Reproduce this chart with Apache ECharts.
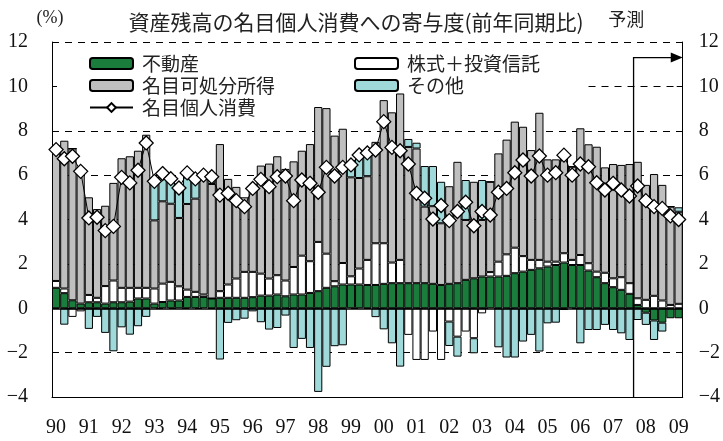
<!DOCTYPE html>
<html><head><meta charset="utf-8">
<script src="https://cdn.jsdelivr.net/npm/echarts@6/dist/echarts.min.js"></script>
<style>html,body{margin:0;padding:0;background:#fff}#c{width:723px;height:441px}</style>
</head><body><div id="c"></div>
<script>
const years = ['90','91','92','93','94','95','96','97','98','99','00','01','02','03','04','05','06','07','08','09'];
const nQuarters = 77;
const realEstate = [0.92,0.68,0.36,0.21,0.27,0.27,0.21,0.27,0.27,0.3,0.44,0.44,0.21,0.28,0.35,0.35,0.51,0.51,0.51,0.44,
0.47,0.47,0.47,0.47,0.5,0.57,0.57,0.62,0.54,0.62,0.62,0.69,0.77,0.92,0.99,1.07,1.07,1.07,1.05,1.05,
1.1,1.13,1.13,1.13,1.13,1.13,1.1,1.05,1.1,1.13,1.28,1.35,1.43,1.43,1.43,1.46,1.58,1.65,1.73,1.8,
1.88,1.95,2.06,1.95,1.95,1.7,1.4,1.13,0.95,0.83,0.65,0.15,-0.2,-0.55,-0.65,-0.45,-0.45];
const stocks = [0.31,0.21,-0.39,-0.14,0.33,0.2,0.79,0.98,0.65,0.62,0.48,0.48,0.68,0.83,0.84,0.64,0.33,0.23,0.11,0,
0.3,0.6,0.87,1.17,1.14,0.99,0.77,0.87,0.71,1.24,1.75,1.43,2.22,1.54,0.23,0.97,0.37,0.72,1.13,1.88,
1.83,0.93,1.05,-1.2,-2.33,-2.33,-1.05,-2.33,-0.6,-1.28,-1.05,-1.35,-0.23,0.2,0.67,0.97,1.15,0.7,0.45,0.38,
0.22,0.15,0.42,0.23,0.45,0.33,0.25,0.47,0.4,0.57,0.48,0.3,0.38,0.56,0.35,0.15,0.2];
const income = [6.07,6.66,6.84,5.96,4.4,4.0,3.62,4.4,5.84,5.93,6.18,6.9,3.07,3.71,3.52,3.08,3.86,4.2,5.48,5.16,
6.63,4.76,4.13,3.36,3.74,4.87,5.18,5.36,5.03,4.76,4.73,5.28,6.08,6.56,6.56,6.05,4.46,4.08,3.77,4.57,
6.45,6.77,7.5,6.14,6.07,3.45,3.5,2.78,4.4,5.47,2.7,4.35,2.55,4.07,4.88,5.17,5.68,5.83,4.95,6.63,
4.61,4.61,4.28,4.2,5.71,5.36,5.63,4.75,5.15,5.06,5.37,6.15,5.18,5.49,5.21,4.43,4.15];
const other = [0,-0.74,0,0,-0.93,-0.39,-1.11,-1.94,-0.86,-1.19,-0.81,-0.39,1.84,1.28,1.24,1.5,1.47,1.01,0,0.25,
-2.31,-0.66,-0.54,-0.47,-0.14,-0.63,-0.96,-0.89,-0.33,-1.79,-1.38,-1.79,-3.77,-2.64,-1.71,-1.67,0.5,0.95,1.05,-0.4,
-0.95,-1.58,-2.63,0.36,0.26,1.83,1.81,1.87,-1.1,-0.9,1.8,-0.68,1.8,0,-1.76,-2.22,-2.22,-1.5,-1.2,-1.95,
-0.68,-0.65,-0.08,0,-1.58,-0.98,-0.98,-0.75,-0.98,-1.13,-1.43,-0.53,-0.55,-0.88,-0.4,0,0.2];
const consumption = [7.15,6.74,6.85,6.17,4.07,4.1,3.5,3.69,5.9,5.65,6.22,7.45,5.72,6.07,5.84,5.42,6.1,5.83,6.0,5.93,
5.1,5.18,4.85,4.58,5.4,5.81,5.48,5.93,5.96,4.85,5.78,5.63,5.23,6.35,5.96,6.35,6.46,6.91,7.0,7.13,
8.41,7.25,7.1,6.5,5.18,4.96,4.02,4.63,3.95,4.36,4.78,3.72,4.36,4.2,5.23,5.4,6.11,6.68,5.96,6.86,
6.0,6.11,6.9,6.0,6.5,6.38,5.66,5.33,5.63,5.33,5.06,5.51,4.85,4.58,4.5,4.16,4.0];
const yTicks = [-4,-2,0,2,4,6,8,10,12];
const forecastStart = 71; // first forecast quarter index

const cats = [];
years.forEach(y => { for (let q = 1; q <= 4; q++) if (cats.length < nQuarters) cats.push(y + 'Q' + q); });

const chart = echarts.init(document.getElementById('c'), null, {renderer: 'canvas'});
const serif = '"Liberation Serif","DejaVu Serif",serif';
const jp = '"Noto Sans CJK JP","Noto Sans CJK SC",sans-serif';
const barBase = {type: 'bar', stack: 'total', barCategoryGap: '0%', barGap: '0%',
  itemStyle: {borderColor: '#000', borderWidth: 1}};
const legendBase = {itemWidth: 43, itemHeight: 11, itemGap: 0, textStyle: {fontFamily: jp, fontSize: 19, color: '#222', padding: [0,0,0,4]}, selectedMode: false};

const splitColors = yTicks.map(v => v === 10 ? 'rgba(0,0,0,0)' : '#000');

chart.setOption({
  animation: false,
  backgroundColor: '#fff',
  grid: {left: 52, right: 40, top: 42, bottom: 44},
  legend: [
    Object.assign({}, legendBase, {left: 84, top: 49, data: ['不動産']}),
    Object.assign({}, legendBase, {left: 349, top: 49, data: ['株式＋投資信託']}),
    Object.assign({}, legendBase, {left: 84, top: 71, data: ['名目可処分所得']}),
    Object.assign({}, legendBase, {left: 349, top: 71, data: ['その他']}),
    Object.assign({}, legendBase, {left: 84, top: 93, data: ['名目個人消費']})
  ],
  xAxis: {
    type: 'category', data: cats, boundaryGap: true,
    axisLine: {onZero: false, lineStyle: {color: '#000', width: 1}},
    axisTick: {inside: true, interval: 3, length: 7, lineStyle: {color: '#000'}},
    axisLabel: {interval: 3, margin: 21, fontFamily: serif, fontSize: 20, color: '#111',
      formatter: v => v.slice(0, 2)},
    splitLine: {show: false}
  },
  yAxis: [
    {type: 'value', min: -4, max: 12, interval: 2, position: 'left',
     axisLine: {show: true, lineStyle: {color: '#000'}},
     axisTick: {show: true, inside: true, length: 5, lineStyle: {color: '#000'}},
     axisLabel: {margin: 24, fontFamily: serif, fontSize: 20, color: '#111',
       formatter: v => v < 0 ? '\u2212' + Math.abs(v) : String(v)},
     splitLine: {show: true, lineStyle: {color: splitColors, type: [7, 6], width: 1}}},
    {type: 'value', min: -4, max: 12, interval: 2, position: 'right',
     axisLine: {show: true, lineStyle: {color: '#000'}},
     axisTick: {show: true, inside: true, length: 6, lineStyle: {color: '#000'}},
     axisLabel: {margin: 16, fontFamily: serif, fontSize: 20, color: '#111',
       formatter: v => v < 0 ? '\u2212' + Math.abs(v) : String(v)},
     splitLine: {show: false}}
  ],
  series: [
    Object.assign({}, barBase, {name: '不動産', data: realEstate,
      itemStyle: {color: '#1b7d3c', borderColor: '#000', borderWidth: 1}}),
    Object.assign({}, barBase, {name: '株式＋投資信託', data: stocks,
      itemStyle: {color: '#ffffff', borderColor: '#000', borderWidth: 1}}),
    Object.assign({}, barBase, {name: '名目可処分所得', data: income,
      itemStyle: {color: '#bfbfbf', borderColor: '#000', borderWidth: 1}}),
    Object.assign({}, barBase, {name: 'その他', data: other,
      itemStyle: {color: '#9fd9d9', borderColor: '#000', borderWidth: 1}}),
    {type: 'line', name: '名目個人消費', data: consumption, z: 10,
     symbol: 'diamond', symbolSize: 14, showAllSymbol: true,
     lineStyle: {color: '#000', width: 1},
     itemStyle: {color: '#fff', borderColor: '#000', borderWidth: 1.3},
     markLine: {silent: true, symbol: 'none', label: {show: false}, animation: false,
       data: [
         {yAxis: 0, lineStyle: {color: '#000', type: 'solid', width: 1.5}},
         [{coord: [cats[65], 10], lineStyle: {color: '#000', type: [7, 6], width: 1}}, {coord: [cats[76], 10]}]
       ]}}
  ]
});

// annotation: title, unit, forecast arrow (positions derived from axes)
const px = i => chart.convertToPixel({xAxisIndex: 0}, cats[i]);
const py = v => chart.convertToPixel({yAxisIndex: 0}, v);
const band = px(1) - px(0);
const xB = px(forecastStart) - band / 2;
const xR = px(nQuarters - 1) + band / 2;
const yTop = py(11.3), yBot = py(-4);
chart.setOption({
  graphic: [
    {type: 'text', x: 356, y: 22, style: {text: '資産残高の名目個人消費への寄与度(前年同期比)', font: '21px ' + jp, fill: '#222', textAlign: 'center', textVerticalAlign: 'middle'}},
    {type: 'text', x: 50, y: 18, style: {text: '(%)', font: '18px ' + serif, fill: '#222', textAlign: 'center', textVerticalAlign: 'middle'}},
    {type: 'text', x: (xB + xR) / 2 - 32, y: 19, style: {text: '予測', font: '18px ' + jp, fill: '#222', textAlign: 'center', textVerticalAlign: 'middle'}},
    {type: 'polyline', z: 20, shape: {points: [[xB, yBot], [xB, yTop], [xR - 10, yTop]]}, style: {stroke: '#000', lineWidth: 1.3, fill: null}},
    {type: 'polygon', z: 20, shape: {points: [[xR - 12, yTop - 5], [xR, yTop], [xR - 12, yTop + 5]]}, style: {fill: '#000'}}
  ]
});
</script></body></html>
